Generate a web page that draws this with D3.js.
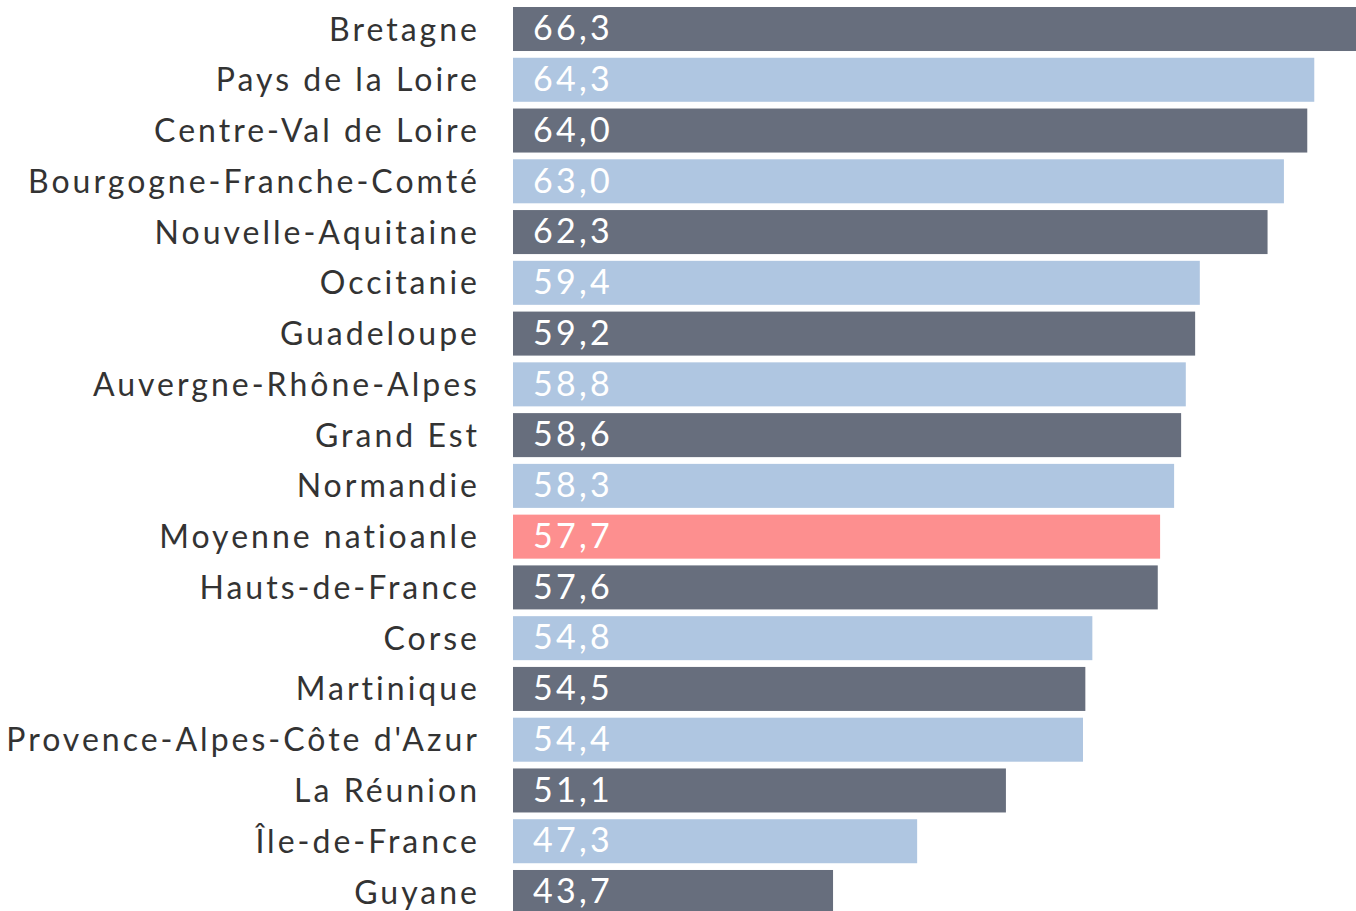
<!DOCTYPE html>
<html><head><meta charset="utf-8">
<script src="https://cdn.jsdelivr.net/npm/d3@7"></script>
<style>body{margin:0;background:#fff}svg{display:block}</style>
</head><body><svg id="c" width="1356" height="911"></svg>
<script>
const categories = ["Bretagne","Pays de la Loire","Centre-Val de Loire","Bourgogne-Franche-Comté","Nouvelle-Aquitaine","Occitanie","Guadeloupe","Auvergne-Rhône-Alpes","Grand Est","Normandie","Moyenne natioanle","Hauts-de-France","Corse","Martinique","Provence-Alpes-Côte d'Azur","La Réunion","Île-de-France","Guyane"];
const values = [66.3,64.3,64.0,63.0,62.3,59.4,59.2,58.8,58.6,58.3,57.7,57.6,54.8,54.5,54.4,51.1,47.3,43.7];
const colorKind = ["dark","light","dark","light","dark","light","dark","light","dark","light","avg","dark","light","dark","light","dark","light","dark"];
const palette = {dark:"#676e7d", light:"#afc6e1", avg:"#fd8f8f"};

const svg = d3.select("#c");
const x = d3.scaleLinear().domain([30, 66.3]).range([513, 1361]);
const y = d3.scaleBand().domain(categories).range([7, 914]).paddingInner(0.133).paddingOuter(0);
const fmt = v => v.toFixed(1).replace(".", ",");

// letter-spacing fitted to the reference's wider typeface
function fitSpacing(text, size, target) {
  const t = svg.append("text").attr("font-family","Lato, sans-serif").attr("font-size",size).text(text);
  const w = t.node().getComputedTextLength();
  t.remove();
  return (target - w) / text.length;
}
const labSize = 32, valSize = 34;
const labLS = fitSpacing("Bourgogne-Franche-Comté", labSize, 452);
const valLS = fitSpacing("66,3", valSize, 80);

const g = svg.append("g");
g.selectAll("rect").data(categories).join("rect")
  .attr("x", x(30)).attr("y", d => y(d))
  .attr("width", (d,i) => x(values[i]) - x(30))
  .attr("height", y.bandwidth())
  .attr("fill", (d,i) => palette[colorKind[i]]);

g.selectAll("text.val").data(categories).join("text").attr("class","val")
  .attr("x", x(30) + 20).attr("y", d => y(d) + y.bandwidth()/2)
  .attr("dy", "0.33em")
  .attr("fill", "#fff").attr("font-family", "Lato, sans-serif").attr("font-size", valSize)
  .attr("letter-spacing", valLS)
  .text((d,i) => fmt(values[i]));

g.selectAll("text.lab").data(categories).join("text").attr("class","lab")
  .attr("x", 477 + labLS).attr("y", d => y(d) + y.bandwidth()/2)
  .attr("dy", "0.36em").attr("text-anchor","end")
  .attr("fill", "#333").attr("font-family", "Lato, sans-serif").attr("font-size", labSize)
  .attr("letter-spacing", labLS)
  .text(d => d);
</script></body></html>
